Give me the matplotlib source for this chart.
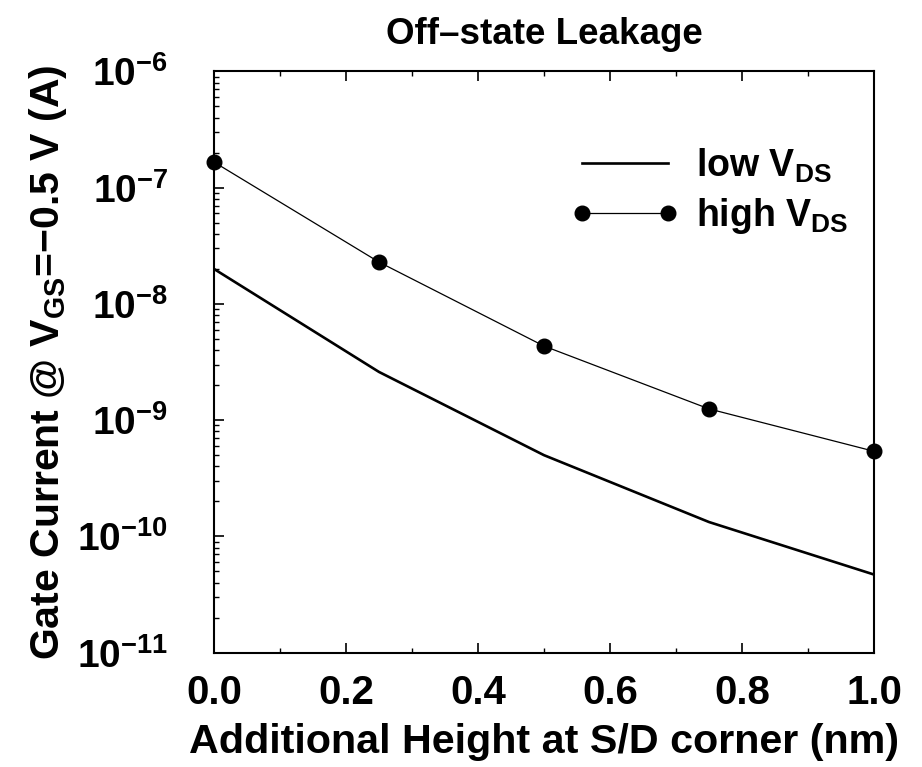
import numpy as np
import matplotlib as mpl
import matplotlib.pyplot as plt
from matplotlib.ticker import LogLocator, MultipleLocator, FixedLocator, NullFormatter

mpl.rcParams['font.family'] = ['Liberation Sans', 'DejaVu Sans']
mpl.rcParams['font.weight'] = 'bold'
mpl.rcParams['mathtext.fontset'] = 'custom'
mpl.rcParams['mathtext.rm'] = 'Liberation Sans:bold'
mpl.rcParams['mathtext.bf'] = 'Liberation Sans:bold'
mpl.rcParams['mathtext.it'] = 'Liberation Sans:bold'

height = [0.0, 0.25, 0.5, 0.75, 1.0]  # nm
low_vds = [2.0e-8, 2.6e-9, 5.0e-10, 1.33e-10, 4.7e-11]
high_vds = [1.66e-7, 2.29e-8, 4.34e-9, 1.25e-9, 5.4e-10]

decades = [-11, -10, -9, -8, -7, -6]
x_ticks = [0.0, 0.2, 0.4, 0.6, 0.8, 1.0]


def main():
    fig = plt.figure(figsize=(9.22, 7.67), dpi=100)
    ax = fig.add_axes([0.232, 0.149, 0.716, 0.758])

    ax.plot(height, low_vds, '-', color='black', lw=1.9, label=r'low V$_{\mathrm{DS}}$')
    ax.plot(height, high_vds, '-o', color='black', lw=0.9, ms=10.5,
            label=r'high V$_{\mathrm{DS}}$', clip_on=False, zorder=5)

    ax.set_yscale('log')
    ax.set_xlim(0, 1)
    ax.set_ylim(1e-11, 1e-6)

    ax.yaxis.set_major_locator(FixedLocator([10.0 ** d for d in decades]))
    ax.yaxis.set_minor_locator(LogLocator(base=10, subs=np.arange(2, 10), numticks=20))
    ax.yaxis.set_minor_formatter(NullFormatter())
    ax.set_yticklabels([r'$\mathbf{10^{%d}}$' % d for d in decades])

    ax.xaxis.set_major_locator(FixedLocator(x_ticks))
    ax.xaxis.set_minor_locator(MultipleLocator(0.1))
    ax.set_xticklabels(['%.1f' % v for v in x_ticks])

    ax.tick_params(axis='x', which='both', direction='in', top=True, bottom=True,
                   labelsize=29, pad=15)
    ax.tick_params(axis='y', which='both', direction='in', left=True, right=False,
                   labelsize=28, pad=33)
    ax.tick_params(which='major', length=7.5, width=1.2)
    ax.tick_params(which='minor', length=3.5, width=1.0)
    for sp in ax.spines.values():
        sp.set_linewidth(1.5)

    ax.set_xlabel('Additional Height at S/D corner (nm)', fontsize=29.7,
                  fontweight='bold', labelpad=8)
    ax.set_ylabel(r'Gate Current @ V$_{\mathrm{GS}}$=$-$0.5 V (A)', fontsize=29.5,
                  fontweight='bold', labelpad=6)
    ax.set_title('Off\u2013state Leakage', fontsize=26.5, fontweight='bold', pad=20)

    ax.legend(loc='upper left', bbox_to_anchor=(0.54, 0.871), frameon=False,
              fontsize=27, handlelength=2.9, handletextpad=0.45, numpoints=2,
              labelspacing=0.3, borderpad=0, borderaxespad=0)

    fig.savefig('out.png', dpi=100)


if __name__ == "__main__":
    main()
